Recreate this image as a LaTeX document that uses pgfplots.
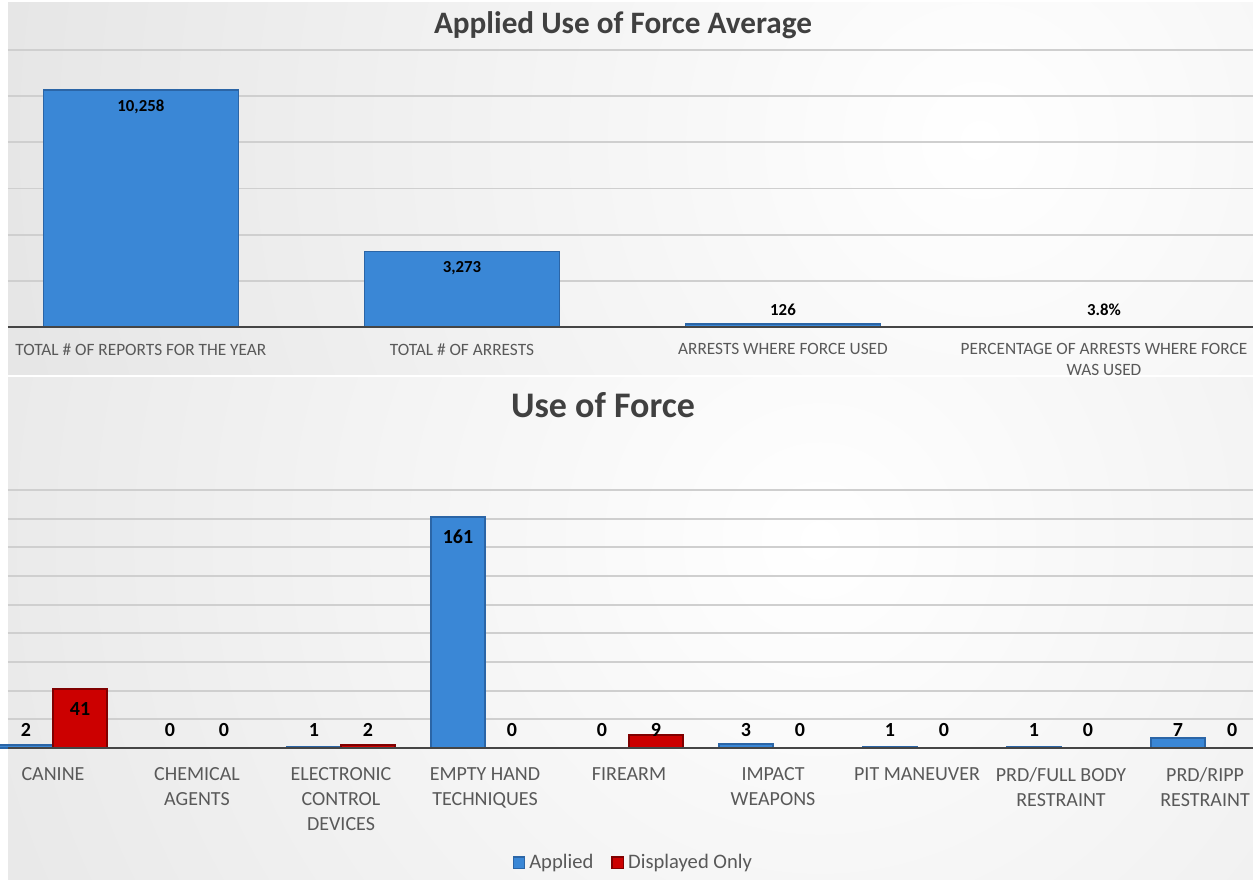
\documentclass[border=0pt]{standalone}
\usepackage{pgfplots}
\pgfplotsset{compat=1.18}
\usepackage{pgfplotstable}
\usepackage{fontspec}
\setmainfont{Carlito}
\definecolor{barblue}{HTML}{3A87D6}
\definecolor{barblueedge}{HTML}{2B65A6}
\definecolor{barred}{HTML}{CC0000}
\definecolor{barrededge}{HTML}{800000}
\definecolor{labgray}{HTML}{595959}
\definecolor{titlegray}{HTML}{404040}
\definecolor{gridgray}{HTML}{CFCFCF}
\definecolor{basegray}{HTML}{454545}

\pgfplotstableread{
x y label
0 10258 {10,258}
1 3273 {3,273}
2 126 126
3 3.8 {3.8\%}
}\topdata

\pgfplotstableread{
x applied displayed
0 2 41
1 0 0
2 1 2
3 161 0
4 0 9
5 3 0
6 1 0
7 1 0
8 7 0
}\forcedata

\begin{document}
\begin{tikzpicture}
\useasboundingbox (0,0) rectangle (626.5pt,439.5pt);
\clip (0,0) rectangle (626.5pt,439.5pt);
\fill[white] (0,0) rectangle (626.5pt,439.5pt);
% backgrounds
\begin{scope}
\clip (4pt,252pt) rectangle (626.5pt,438pt);
\shade[inner color=white, outer color=black!14] (490pt,369.5pt) circle (700pt);
\end{scope}
\begin{scope}
\clip (4pt,0pt) rectangle (626.5pt,250.5pt);
\shade[inner color=white, outer color=black!14] (410pt,169.5pt) circle (700pt);
\end{scope}
% titles
\node[font=\bfseries\fontsize{15.6}{18}\selectfont, text=titlegray] at (311.5pt,427pt) {Applied Use of Force Average};
\node[font=\bfseries\fontsize{18}{21}\selectfont, text=titlegray] at (301.5pt,237pt) {Use of Force};

\begin{axis}[
  at={(4pt,276pt)}, anchor=south west, scale only axis,
  width=622.5pt, height=138.5pt,
  xmin=-0.414, xmax=3.464, ymin=0, ymax=12000,
  axis line style={draw=none}, major tick length=0pt,
  scaled y ticks=false,
  ytick={2000,4000,...,12000}, yticklabels={},
  ymajorgrids, grid style={gridgray, line width=0.9pt},
  xtick={0,1,2,3},
  xticklabels={TOTAL \# OF REPORTS FOR THE YEAR, TOTAL \# OF ARRESTS, ARRESTS WHERE FORCE USED, {PERCENTAGE OF ARRESTS WHERE FORCE\\WAS USED}},
  xticklabel style={font=\fontsize{8.65}{10.2}\selectfont, text=labgray, align=center, anchor=north, yshift=-4.8pt},
  ybar, bar width=0.6075,
  nodes near coords, point meta=explicit symbolic,
  visualization depends on={rawy \as \rawy},
  every node near coord/.append style={anchor=center, font=\bfseries\fontsize{8.4}{10}\selectfont, text=black, yshift={max(-8.5,8.5-0.01155*\rawy)}},
  clip=false,
]
\addplot[fill=barblue, draw=barblueedge, line width=0.8pt, bar shift=0] table[x=x, y=y, meta=label] {\topdata};
\draw[basegray, line width=1.3pt] (rel axis cs:0,0) -- (rel axis cs:1,0);
\end{axis}

\begin{axis}[
  at={(4pt,65.5pt)}, anchor=south west, scale only axis,
  width=622.5pt, height=129pt,
  xmin=-0.3125, xmax=8.333, ymin=0, ymax=180,
  axis line style={draw=none}, major tick length=0pt,
  ytick={20,40,...,180}, yticklabels={},
  ymajorgrids, grid style={gridgray, line width=0.9pt},
  xtick={0,1,...,8},
  xticklabels={CANINE, {CHEMICAL\\AGENTS}, {ELECTRONIC\\CONTROL\\DEVICES}, {EMPTY HAND\\TECHNIQUES}, FIREARM, {IMPACT\\WEAPONS}, PIT MANEUVER, {PRD/FULL BODY\\RESTRAINT}, {PRD/RIPP\\RESTRAINT}},
  xticklabel style={font=\fontsize{10}{12.5}\selectfont, text=labgray, align=center, anchor=north, yshift=-6.4pt},
  ybar, bar width=0.375,
  nodes near coords,
  /pgf/number format/assume math mode=true,
  visualization depends on={rawy \as \rawy},
  every node near coord/.append style={anchor=center, font=\bfseries\fontsize{10}{12}\selectfont, text=black, yshift={max(-10,9-0.7167*\rawy)}},
  legend style={at={(0.503,-0.4457)}, anchor=center, draw=none, fill=none, legend columns=2, font=\fontsize{10.3}{12}\selectfont, text=labgray, /tikz/every even column/.append style={column sep=7pt}},
  legend image code/.code={\draw[#1, line width=0.6pt] (0pt,-2.8pt) rectangle (5.8pt,3pt);},
  clip=false,
]
\addplot[fill=barblue, draw=barblueedge, line width=0.8pt, bar shift=-0.1875] table[x=x, y=applied] {\forcedata};
\addplot[fill=barred, draw=barrededge, line width=0.8pt, bar shift=0.1875] table[x=x, y=displayed] {\forcedata};
\legend{Applied, Displayed Only}
\draw[basegray, line width=1.3pt] (rel axis cs:0,0) -- (rel axis cs:1,0);
\end{axis}
\end{tikzpicture}
\end{document}
